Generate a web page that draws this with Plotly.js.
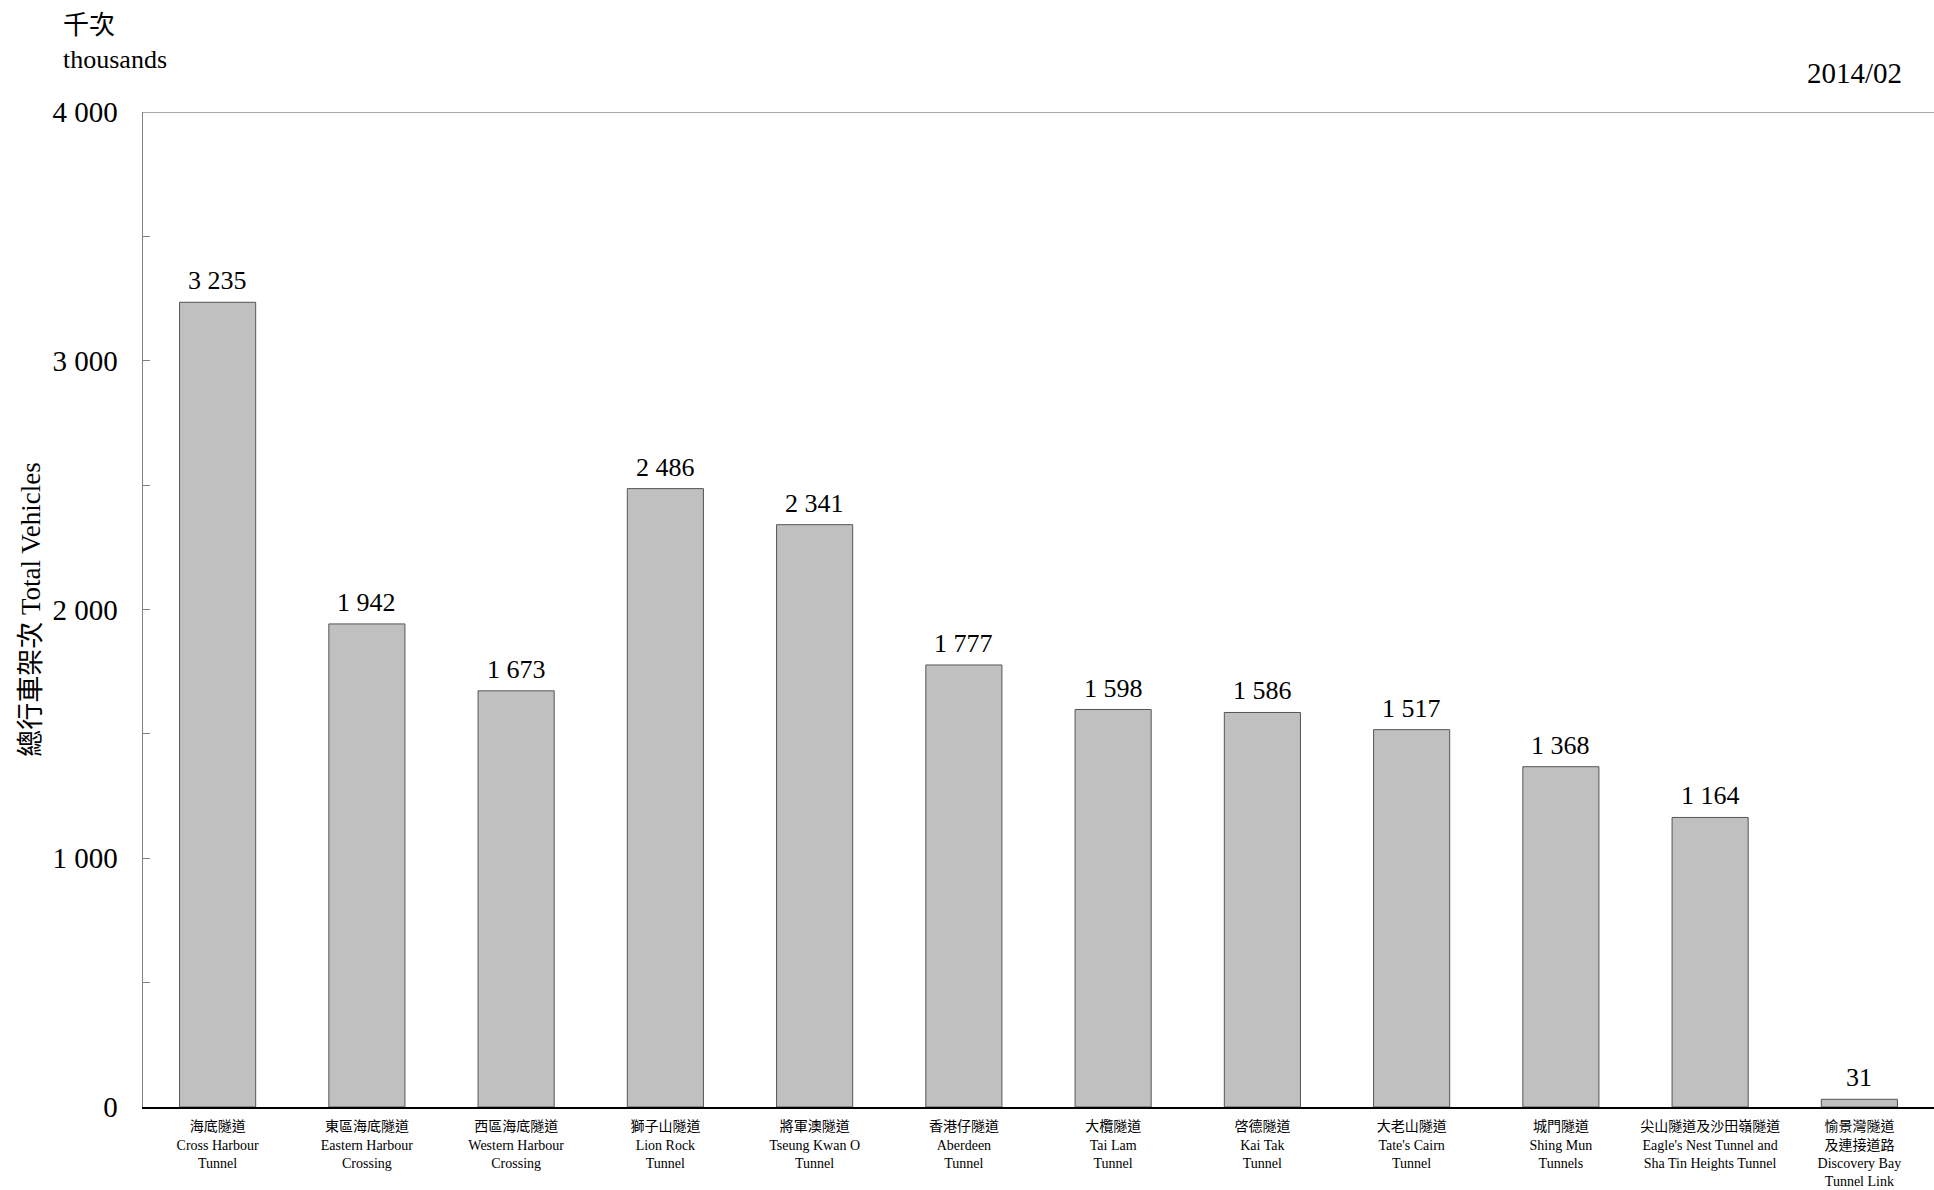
<!DOCTYPE html>
<html>
<head>
<meta charset="utf-8">
<script src="https://cdn.plot.ly/plotly-3.0.1.min.js"></script>
<style>html,body{margin:0;padding:0;background:#fff;}#chart{width:1934px;height:1190px;}</style>
</head>
<body>
<div id="chart"></div>
<script>
const categories = [
  "海底隧道<br>Cross Harbour<br>Tunnel",
  "東區海底隧道<br>Eastern Harbour<br>Crossing",
  "西區海底隧道<br>Western Harbour<br>Crossing",
  "獅子山隧道<br>Lion Rock<br>Tunnel",
  "將軍澳隧道<br>Tseung Kwan O<br>Tunnel",
  "香港仔隧道<br>Aberdeen<br>Tunnel",
  "大欖隧道<br>Tai Lam<br>Tunnel",
  "啓德隧道<br>Kai Tak<br>Tunnel",
  "大老山隧道<br>Tate's Cairn<br>Tunnel",
  "城門隧道<br>Shing Mun<br>Tunnels",
  "尖山隧道及沙田嶺隧道<br>Eagle's Nest Tunnel and<br>Sha Tin Heights Tunnel",
  "愉景灣隧道<br>及連接道路<br>Discovery Bay<br>Tunnel Link"
];
const vehicles = [3235, 1942, 1673, 2486, 2341, 1777, 1598, 1586, 1517, 1368, 1164, 31];
const yTickValues = [0, 1000, 2000, 3000, 4000];
const unitLabel = "千次<br>thousands";
const periodLabel = "2014/02";
const yTitle = "總行車架次 Total Vehicles";

const serif = "'Liberation Serif', 'Times New Roman', 'Noto Sans CJK TC', serif";
const fmt = v => String(v).replace(/\B(?=(\d{3})+(?!\d))/g, " ");

const trace = {
  type: "bar",
  x: categories,
  y: vehicles,
  marker: {color: "#c0c0c0", line: {color: "#555555", width: 1}},
  cliponaxis: false,
  hoverinfo: "x+y"
};

const valueLabels = categories.map((c, i) => ({
  x: c, y: vehicles[i], xref: "x", yref: "y",
  text: fmt(vehicles[i]), showarrow: false,
  xanchor: "center", yanchor: "bottom", yshift: 5,
  font: {family: serif, size: 26, color: "#000"}
}));

const layout = {
  width: 1934,
  height: 1190,
  margin: {l: 143, r: 0, t: 112, b: 83},
  paper_bgcolor: "#fff",
  plot_bgcolor: "#fff",
  separators: ". ",
  showlegend: false,
  bargap: 0.49,
  font: {family: serif, color: "#000"},
  xaxis: {
    type: "category",
    showline: true,
    linecolor: "#000",
    linewidth: 1.5,
    ticks: "",
    showgrid: false,
    tickfont: {family: serif, size: 14, color: "#000"},
    tickangle: 0,
    ticklabelstandoff: 6,
    automargin: false
  },
  yaxis: {
    range: [0, 4000],
    tickvals: yTickValues,
    tickformat: ",",
    showline: true,
    linecolor: "#808080",
    linewidth: 1.5,
    ticks: "inside",
    ticklen: 7,
    tickcolor: "#808080",
    minor: {dtick: 500, ticks: "inside", ticklen: 7, tickcolor: "#808080", showgrid: false},
    showgrid: false,
    zeroline: false,
    tickfont: {family: serif, size: 29, color: "#000"},
    ticklabelstandoff: 18,
    title: {text: yTitle, font: {family: serif, size: 27, color: "#000"}, standoff: 4},
    automargin: false
  },
  shapes: [{
    type: "line", xref: "paper", yref: "y", x0: 0, x1: 1, y0: 4000, y1: 4000,
    line: {color: "#555555", width: 1.2}
  }],
  annotations: valueLabels.concat([
    {text: unitLabel, xref: "paper", yref: "paper", x: -0.046, y: 1.104, xanchor: "left", yanchor: "top",
     align: "left", showarrow: false, font: {family: serif, size: 26, color: "#000"}},
    {text: periodLabel, xref: "paper", yref: "paper", x: 0.983, y: 1.039, xanchor: "right", yanchor: "middle",
     showarrow: false, font: {family: serif, size: 29, color: "#000"}}
  ])
};

Plotly.newPlot("chart", [trace], layout, {displayModeBar: false, staticPlot: true});
</script>
</body>
</html>
